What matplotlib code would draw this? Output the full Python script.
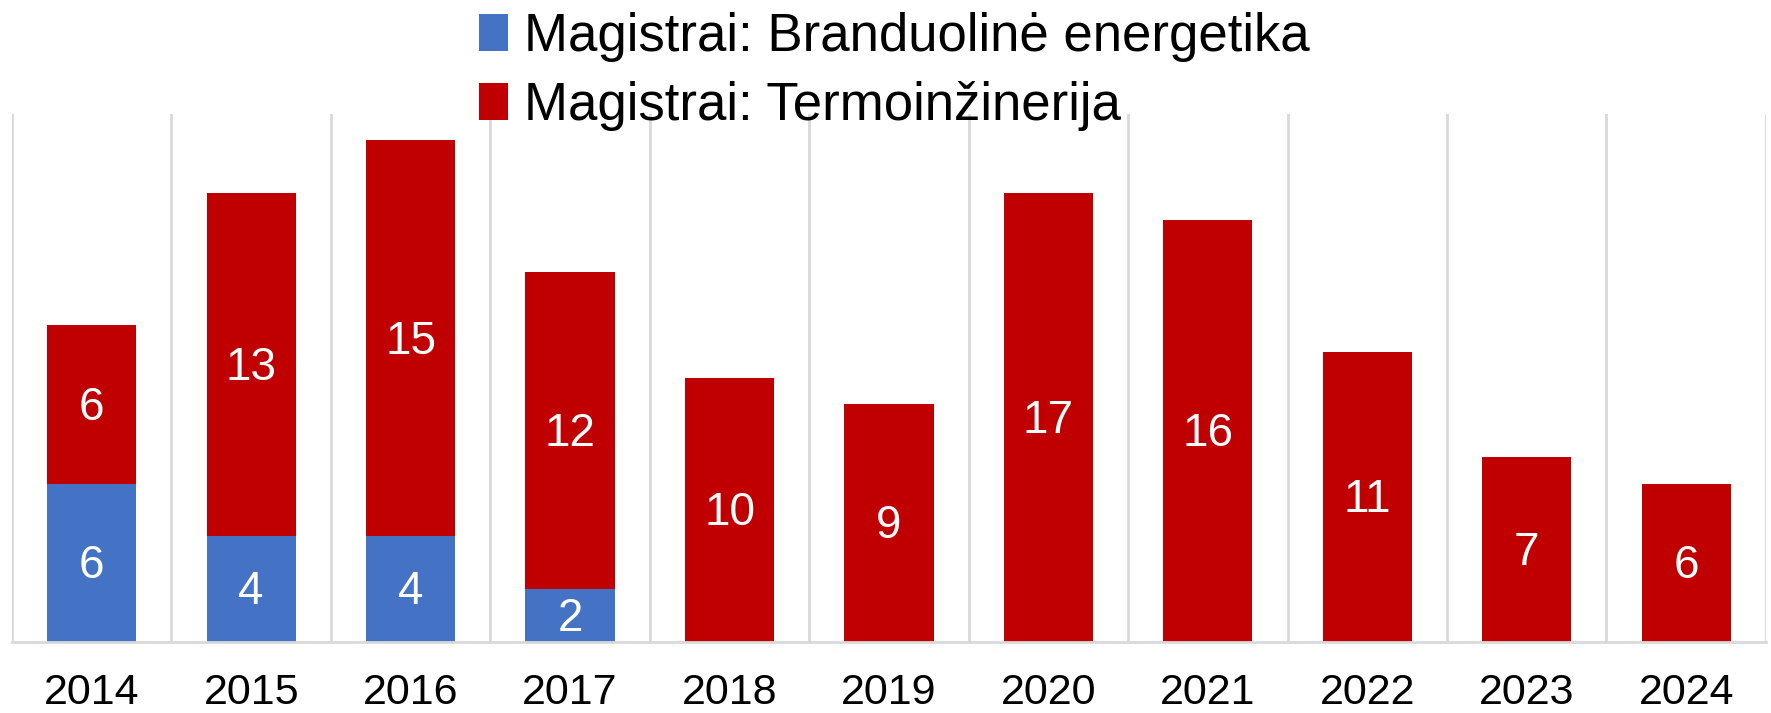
import numpy as np
import matplotlib.pyplot as plt
from matplotlib import rcParams

rcParams['font.family'] = ['Liberation Sans', 'DejaVu Sans']

# duomenys
years = ['2014', '2015', '2016', '2017', '2018', '2019', '2020', '2021', '2022', '2023', '2024']
branduoline = [6, 4, 4, 2, 0, 0, 0, 0, 0, 0, 0]
termo = [6, 13, 15, 12, 10, 9, 17, 16, 11, 7, 6]

blue = '#4472C4'
red = '#C00000'
grid_col = '#D9D9D9'

fig = plt.figure(figsize=(17.71, 7.13), dpi=100)
ax = fig.add_axes([0.0068, 0.0996, 0.9903, 0.7405])

x = np.arange(len(years))
w = 0.56
b1 = ax.bar(x, branduoline, w, color=blue, label='Magistrai: Branduolinė energetika', zorder=2)
b2 = ax.bar(x, termo, w, bottom=branduoline, color=red, label='Magistrai: Termoinžinerija', zorder=2)

# reikšmės stulpeliuose
for bars, vals in [(b1, branduoline), (b2, termo)]:
    for rect, v in zip(bars, vals):
        if v > 0:
            ax.text(rect.get_x() + rect.get_width() / 2, rect.get_y() + rect.get_height() / 2 - 0.12, str(v),
                    ha='center', va='center', color='white', fontsize=33, zorder=3)

ax.set_xlim(-0.5, len(years) - 0.5)
ax.set_ylim(0, 20)

# vertikalios linijos tarp kategorijų
for b in np.arange(-0.5, len(years), 1):
    ax.axvline(b, color=grid_col, lw=2, zorder=1)

ax.set_xticks(x)
ax.set_xticklabels(years, fontsize=31)
ax.tick_params(axis='x', length=0, pad=22)
ax.set_yticks([])
for s in ['top', 'right', 'left']:
    ax.spines[s].set_visible(False)
ax.spines['bottom'].set_color(grid_col)
ax.spines['bottom'].set_linewidth(2)

fig.legend(loc='upper center', bbox_to_anchor=(0.505, 1.05), ncol=1, frameon=False,
           fontsize=38, handlelength=0.55, handleheight=0.7, handletextpad=0.3,
           labelspacing=0.37)

fig.savefig('out.png', dpi=100)
